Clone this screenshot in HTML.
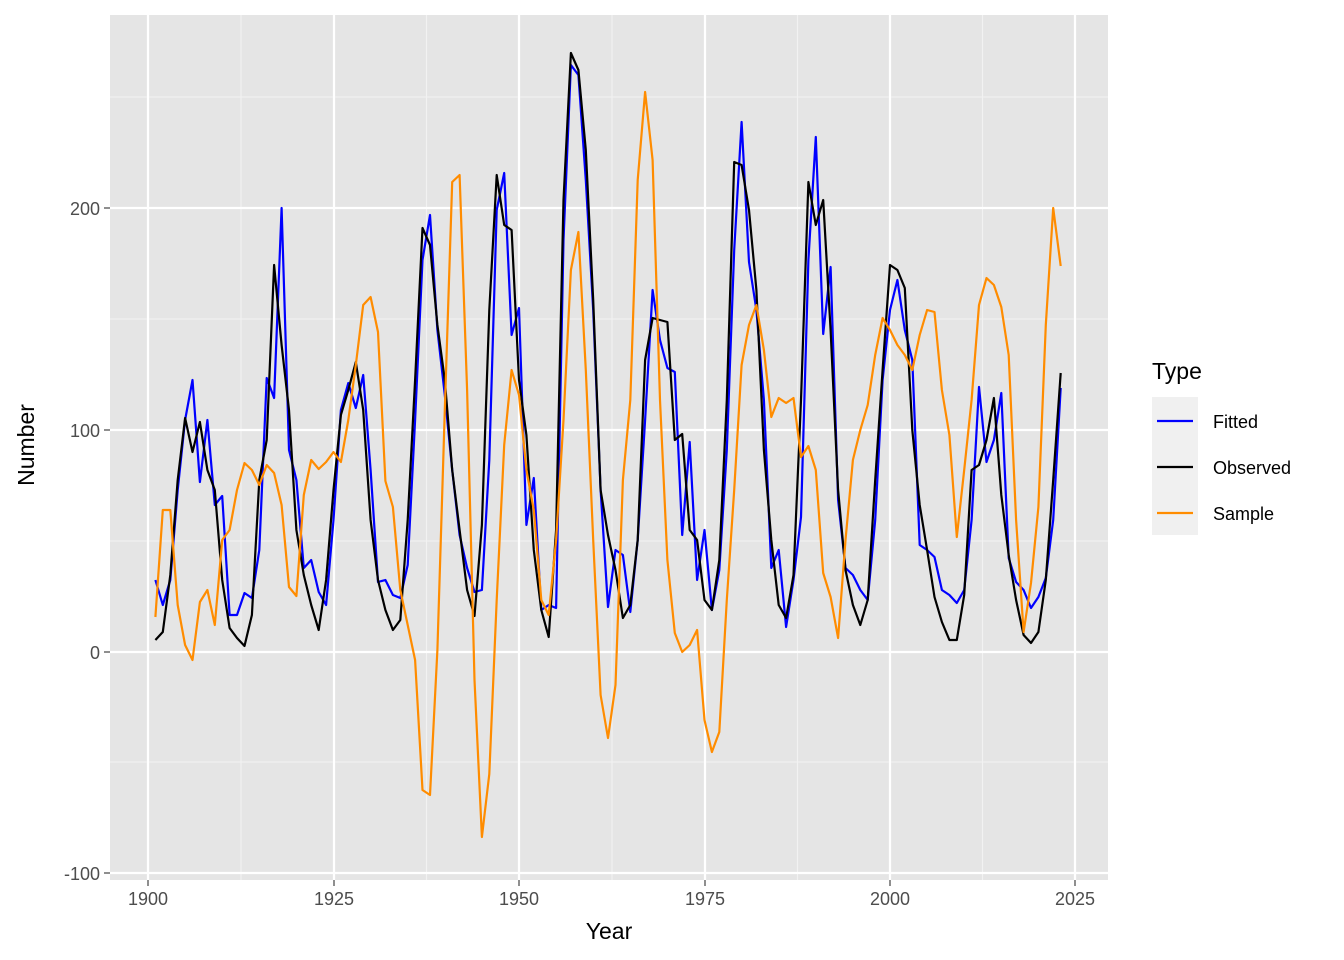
<!DOCTYPE html>
<html><head><meta charset="utf-8"><style>
html,body{margin:0;padding:0;background:#fff;}
svg{display:block;font-family:"Liberation Sans",Arial,sans-serif;}
</style></head><body>
<svg id="s" width="1344" height="960" xmlns="http://www.w3.org/2000/svg">
<rect x="0" y="0" width="1344" height="960" fill="#fff"/>
<rect x="110" y="15" width="998" height="865" fill="#e5e5e5"/>
<g stroke="#f2f2f2" stroke-width="1.1">
<line x1="110" x2="1108" y1="97" y2="97"/><line x1="110" x2="1108" y1="319" y2="319"/>
<line x1="110" x2="1108" y1="541" y2="541"/><line x1="110" x2="1108" y1="762" y2="762"/>
<line y1="15" y2="880" x1="241" x2="241"/><line y1="15" y2="880" x1="426.5" x2="426.5"/>
<line y1="15" y2="880" x1="612" x2="612"/><line y1="15" y2="880" x1="797.5" x2="797.5"/>
<line y1="15" y2="880" x1="982.5" x2="982.5"/>
</g>
<g stroke="#fff" stroke-width="2.2">
<line x1="110" x2="1108" y1="208" y2="208"/><line x1="110" x2="1108" y1="430" y2="430"/>
<line x1="110" x2="1108" y1="652" y2="652"/><line x1="110" x2="1108" y1="873" y2="873"/>
<line y1="15" y2="880" x1="148" x2="148"/><line y1="15" y2="880" x1="334" x2="334"/>
<line y1="15" y2="880" x1="519" x2="519"/><line y1="15" y2="880" x1="705" x2="705"/>
<line y1="15" y2="880" x1="890" x2="890"/><line y1="15" y2="880" x1="1075" x2="1075"/>
</g>
<g id="lines" fill="none" stroke-width="2.2" stroke-linejoin="round"></g>
<g fill="#4d4d4d" font-size="18" text-anchor="end">
<text x="100" y="215">200</text><text x="100" y="437">100</text>
<text x="100" y="659">0</text><text x="100" y="880">-100</text>
</g>
<g stroke="#333" stroke-width="1.1">
<line x1="104" x2="110" y1="208" y2="208"/><line x1="104" x2="110" y1="430" y2="430"/>
<line x1="104" x2="110" y1="652" y2="652"/><line x1="104" x2="110" y1="873" y2="873"/>
<line y1="880" y2="886" x1="148" x2="148"/><line y1="880" y2="886" x1="334" x2="334"/>
<line y1="880" y2="886" x1="519" x2="519"/><line y1="880" y2="886" x1="705" x2="705"/>
<line y1="880" y2="886" x1="890" x2="890"/><line y1="880" y2="886" x1="1075" x2="1075"/>
</g>
<g fill="#4d4d4d" font-size="18" text-anchor="middle">
<text x="148" y="905">1900</text><text x="334" y="905">1925</text><text x="519" y="905">1950</text>
<text x="705" y="905">1975</text><text x="890" y="905">2000</text><text x="1075" y="905">2025</text>
</g>
<text x="609" y="939" font-size="23" text-anchor="middle">Year</text>
<text x="0" y="0" font-size="23" text-anchor="middle" transform="translate(34,445) rotate(-90)">Number</text>
<text x="1152" y="379" font-size="23">Type</text>
<rect x="1152" y="397" width="46" height="138" fill="#f0f0f0"/>
<line x1="1157" x2="1193" y1="421" y2="421" stroke="#00f" stroke-width="2.2"/>
<line x1="1157" x2="1193" y1="467" y2="467" stroke="#000" stroke-width="2.2"/>
<line x1="1157" x2="1193" y1="513" y2="513" stroke="#ff8c00" stroke-width="2.2"/>
<g font-size="18" fill="#000">
<text x="1213" y="428">Fitted</text><text x="1213" y="474">Observed</text><text x="1213" y="520">Sample</text>
</g>
</svg>
<script>
var obs=[640,632,575,480,418,452,422,470,490,580,628,638,646,615,480,440,265,345,410,530,575,605,630,580,490,415,390,362,410,520,580,610,630,620,520,380,228,245,325,380,470,530,590,616,525,310,175,225,230,380,435,550,610,637,530,200,53,70,150,300,490,535,570,618,605,540,360,318,320,322,440,434,530,540,600,610,560,400,162,165,210,290,450,540,605,618,575,400,182,225,200,330,490,570,605,625,600,480,370,265,270,288,430,505,550,597,622,640,640,595,470,465,440,398,495,555,600,635,643,632,580,480,373];
var fit=[580,605,580,490,420,380,482,420,505,496,615,615,593,598,550,378,398,208,450,480,568,560,592,605,520,410,383,408,375,470,582,580,595,598,565,420,260,215,330,395,470,535,568,592,590,460,210,173,335,308,525,478,610,605,608,240,65,75,180,310,490,607,550,555,612,540,420,290,340,368,372,535,442,580,530,610,570,450,250,122,262,310,400,568,550,627,580,517,260,137,334,267,500,568,575,590,600,520,380,310,280,330,360,545,550,557,590,595,603,590,520,387,462,440,393,558,582,590,608,597,578,520,388];
var smp=[617,510,510,605,645,660,602,590,625,540,530,490,463,470,485,465,473,505,587,596,495,460,469,462,452,462,420,365,305,297,332,481,507,590,625,660,790,795,650,410,182,175,390,680,837,774,600,445,370,395,470,510,600,615,540,420,270,232,370,540,695,738,685,480,400,180,92,160,400,560,633,652,645,630,720,752,732,600,490,365,325,305,350,417,398,403,398,457,446,470,573,597,638,540,460,430,405,355,318,330,345,355,370,335,310,312,390,435,537,470,400,305,278,285,307,355,520,632,583,507,325,208,266];
function pts(a){return a.map(function(y,i){return (148+(i+1)*7.42).toFixed(1)+","+y;}).join(" ");}
var g=document.getElementById("lines"),ns="http://www.w3.org/2000/svg";
[[fit,"#0000ff"],[obs,"#000000"],[smp,"#ff8c00"]].forEach(function(d){var p=document.createElementNS(ns,"polyline");p.setAttribute("points",pts(d[0]));p.setAttribute("stroke",d[1]);g.appendChild(p);});
</script>
</body></html>
